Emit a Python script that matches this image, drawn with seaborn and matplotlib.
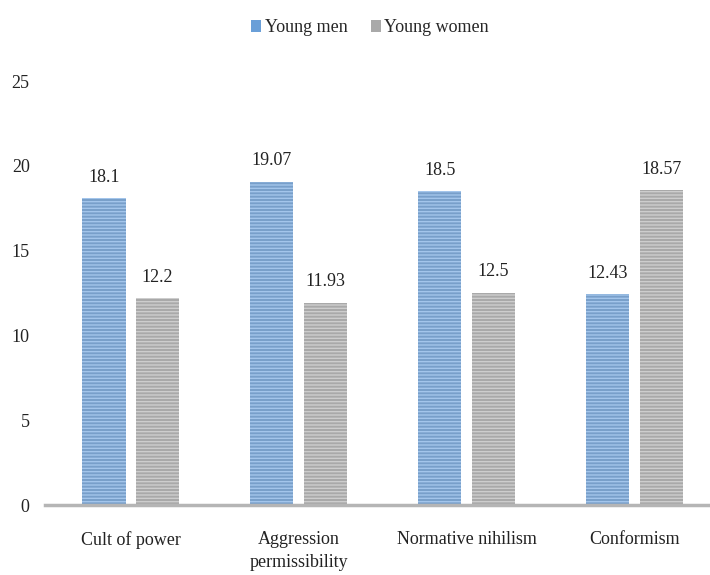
import matplotlib
matplotlib.use("Agg")
import matplotlib.pyplot as plt
from matplotlib.patches import Patch
import seaborn as sns
import pandas as pd

categories = ["Cult of power", "Aggression\npermissibility", "Normative nihilism", "Conformism"]
groups = ["Young men", "Young women"]
men_values = [18.1, 19.07, 18.5, 12.43]
women_values = [12.2, 11.93, 12.5, 18.57]
value_labels = [["18.1", "19.07", "18.5", "12.43"], ["12.2", "11.93", "12.5", "18.57"]]
yticks = [0, 5, 10, 15, 20, 25]

fill_colors = ["#6a9fd8", "#a9a9a9"]
stripe_colors = ["#a3c5eb", "#cdcdcd"]

df = pd.DataFrame({
    "category": categories * 2,
    "group": [groups[0]] * 4 + [groups[1]] * 4,
    "value": men_values + women_values,
})

sns.set_theme(style="white")
plt.rcParams["font.family"] = ["Liberation Serif", "DejaVu Serif"]
plt.rcParams["hatch.linewidth"] = 1.0

fig = plt.figure(figsize=(7.1, 5.75), dpi=100)
ax = fig.add_axes([45 / 710, 70 / 575, 665 / 710, 424 / 575])

sns.barplot(data=df, x="category", y="value", hue="group", order=categories,
            hue_order=groups, palette=fill_colors, width=0.64, gap=0.19,
            ax=ax, legend=False, linewidth=0)

for cont, stripe, labels in zip(ax.containers, stripe_colors, value_labels):
    for bar in cont:
        bar.set_hatch("-----")
        bar.set_edgecolor(stripe)
        bar.set_linewidth(0)
    ax.bar_label(cont, labels=labels, padding=9, fontsize=13, color="#222222")

ax.set_xlim(-0.51, 3.45)
ax.set_ylim(0, 25)
ax.set_yticks(yticks)
ax.set_yticklabels([str(t) for t in yticks])
ax.set_xlabel("")
ax.set_ylabel("")
ax.tick_params(axis="both", length=0, labelsize=13, colors="#222222")
ax.tick_params(axis="y", pad=11)
ax.tick_params(axis="x", pad=19)
for lbl in ax.get_xticklabels():
    lbl.set_linespacing(1.4)

for side in ["top", "right", "left"]:
    ax.spines[side].set_visible(False)
ax.spines["bottom"].set_color("#b5b5b5")
ax.spines["bottom"].set_linewidth(2.5)

handles = [Patch(facecolor=c, edgecolor="none") for c in fill_colors]
fig.legend(handles, groups, loc="center", bbox_to_anchor=(370 / 710, 1 - 28 / 575),
           ncol=2, frameon=False, fontsize=13, handlelength=0.55, handleheight=0.6,
           handletextpad=0.2, columnspacing=1.3)

fig.savefig("out.png", dpi=100)
